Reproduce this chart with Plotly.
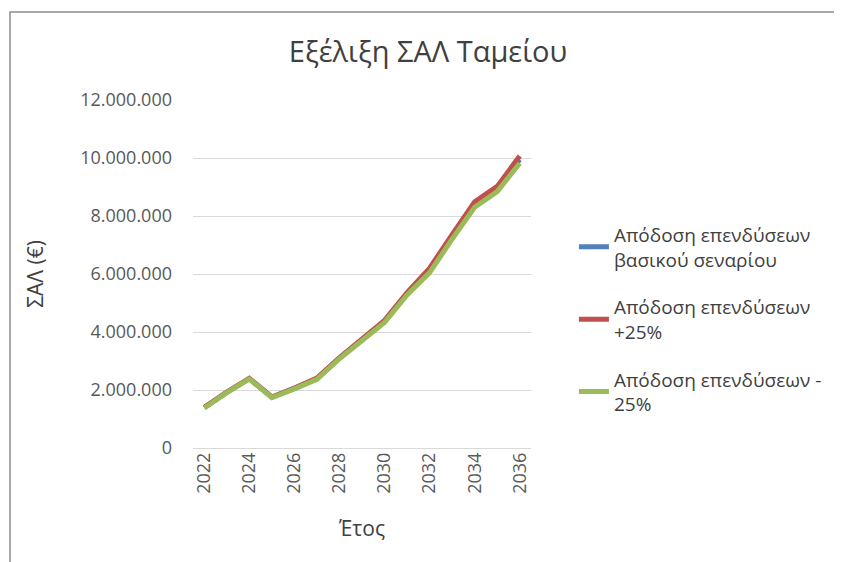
import plotly.graph_objects as go

years = list(range(2022, 2037))
base = [1390000, 1920000, 2390000, 1750000, 2055000, 2390000, 3100000, 3725000,
        4365000, 5320000, 6125000, 7280000, 8400000, 8930000, 9945000]
plus25 = [1400000, 1930000, 2400000, 1760000, 2070000, 2410000, 3120000, 3750000,
          4400000, 5360000, 6200000, 7360000, 8490000, 9020000, 10070000]
minus25 = [1380000, 1910000, 2380000, 1740000, 2040000, 2370000, 3080000, 3700000,
           4330000, 5280000, 6050000, 7200000, 8300000, 8840000, 9820000]

names = ["Απόδοση επενδύσεων<br>βασικού σεναρίου",
         "Απόδοση επενδύσεων<br>+25%",
         "Απόδοση επενδύσεων -<br>25%"]
colors = ["#4F81BD", "#C0504D", "#9BBB59"]

FONT = "Open Sans, sans-serif"
GREY = "#595959"

fig = go.Figure()
for i, (vals, name, col) in enumerate(zip([base, plus25, minus25], names, colors)):
    fig.add_trace(go.Scatter(
        x=years, y=vals, name=name, mode="lines",
        line=dict(color=col, width=5),
        legendgroup=f"g{i}"))

# страница добавляет 8px отступа у body -> фигура чуть меньше окна
fig.update_layout(
    width=834, height=554,
    margin=dict(l=185, r=311, t=92, b=114, autoexpand=False),
    paper_bgcolor="white", plot_bgcolor="white",
    separators=",.",
    font=dict(family=FONT, color=GREY, size=16),
    title=dict(text="Εξέλιξη ΣΑΛ Ταμείου", x=0.5036, xanchor="center",
               y=0.9206, yanchor="middle",
               font=dict(size=29, color="#404040", family=FONT)),
    legend=dict(x=1.127, xanchor="left", y=0.668, yanchor="top",
                font=dict(size=19, color="#404040"),
                tracegroupgap=20, bgcolor="rgba(0,0,0,0)"),
    shapes=[dict(type="rect", xref="paper", yref="paper",
                 x0=-0.5414, x1=3, y0=-2, y1=1.2529,
                 line=dict(color="#8C8C8C", width=1.5))],
)

fig.update_xaxes(
    range=[2021.5, 2036.5], tickmode="array",
    tickvals=years[::2], ticktext=[str(y) for y in years[::2]],
    tickangle=-90, showgrid=False, zeroline=False, showline=False,
    ticks="", tickfont=dict(size=18, color=GREY),
    title=dict(text="Έτος", font=dict(size=21, color="#404040"), standoff=28))

fig.update_yaxes(
    range=[0, 12000000], dtick=2000000, tickformat=",.0f",
    showgrid=True, gridcolor="#D9D9D9", gridwidth=1.2,
    zeroline=True, zerolinecolor="#D9D9D9", zerolinewidth=1.2,
    showline=False, ticks="", ticklen=0, ticklabelstandoff=20,
    tickfont=dict(size=18, color=GREY),
    title=dict(text="ΣΑΛ (€)", font=dict(size=21, color="#404040"), standoff=30))

fig.write_html("out.html")
